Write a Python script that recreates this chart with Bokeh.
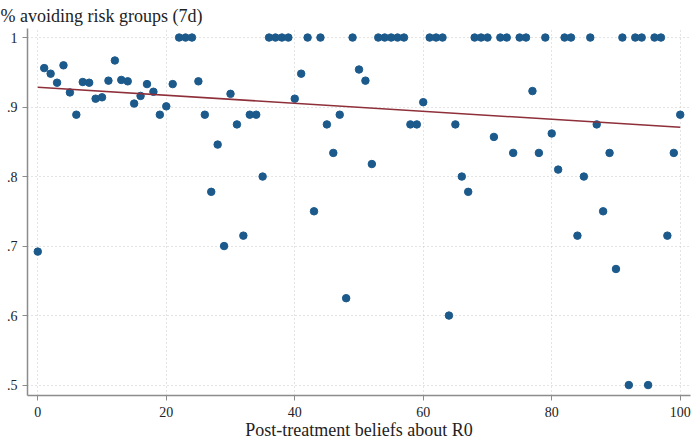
import numpy as np
from bokeh.plotting import figure
from bokeh.models import FixedTicker, Range1d, Title
from bokeh.embed import file_html
from bokeh.resources import INLINE

# Data
beliefs_r0 = list(range(0, 101))
avoid_share = [
    0.692, 0.956, 0.948, 0.935, 0.960, 0.921, 0.889, 0.936, 0.935, 0.912,
    0.914, 0.938, 0.967, 0.939, 0.937, 0.905, 0.916, 0.933, 0.922, 0.889,
    0.901, 0.933, 1.000, 1.000, 1.000, 0.937, 0.889, 0.778, 0.846, 0.700,
    0.919, 0.875, 0.715, 0.889, 0.889, 0.800, 1.000, 1.000, 1.000, 1.000,
    0.912, 0.948, 1.000, 0.750, 1.000, 0.875, 0.834, 0.889, 0.625, 1.000,
    0.954, 0.938, 0.818, 1.000, 1.000, 1.000, 1.000, 1.000, 0.875, 0.875,
    0.907, 1.000, 1.000, 1.000, 0.600, 0.875, 0.800, 0.778, 1.000, 1.000,
    1.000, 0.857, 1.000, 1.000, 0.834, 1.000, 1.000, 0.923, 0.834, 1.000,
    0.862, 0.810, 1.000, 1.000, 0.715, 0.800, 1.000, 0.875, 0.750, 0.834,
    0.667, 1.000, 0.500, 1.000, 1.000, 0.500, 1.000, 1.000, 0.715, 0.834,
    0.889,
]
x_ticks = [0, 20, 40, 60, 80, 100]
y_ticks = [0.5, 0.6, 0.7, 0.8, 0.9, 1.0]
y_tick_labels = [".5", ".6", ".7", ".8", ".9", "1"]
title_text = "% avoiding risk groups (7d)"
xlabel_text = "Post-treatment beliefs about R0"

# Linear fit line
slope, intercept = np.polyfit(beliefs_r0, avoid_share, 1)
fit_x = [min(beliefs_r0), max(beliefs_r0)]
fit_y = [intercept + slope * v for v in fit_x]

FONT = "Liberation Serif"
AXIS_COLOR = "#8c8c8c"
TEXT_COLOR = "#222222"

p = figure(width=696, height=442, output_backend="svg", toolbar_location=None,
           x_range=Range1d(-1.6, 101.6), y_range=Range1d(0.485, 1.013),
           min_border_left=27, min_border_right=6, min_border_top=28,
           min_border_bottom=44, title=None)
p.outline_line_color = None
p.background_fill_color = "white"
p.border_fill_color = "white"

t = Title(text=title_text, align="left", offset=-27, standoff=5,
          text_font=FONT, text_font_size="18px", text_font_style="normal",
          text_color=TEXT_COLOR)
p.add_layout(t, "above")

for ax in (p.xaxis, p.yaxis):
    ax.axis_line_color = AXIS_COLOR
    ax.axis_line_width = 1.5
    ax.major_tick_line_color = AXIS_COLOR
    ax.major_tick_line_width = 1
    ax.major_tick_out = 5
    ax.major_tick_in = 0
    ax.minor_tick_line_color = None
    ax.major_label_text_font = FONT
    ax.major_label_text_font_size = "14px"
    ax.major_label_text_color = TEXT_COLOR

p.xaxis.ticker = FixedTicker(ticks=x_ticks)
p.yaxis.ticker = FixedTicker(ticks=y_ticks)
p.yaxis.major_label_overrides = {v: l for v, l in zip(y_ticks, y_tick_labels)}
p.yaxis.major_label_standoff = 5
p.xaxis.major_label_standoff = 6
p.xaxis.axis_label = xlabel_text
p.xaxis.axis_label_text_font = FONT
p.xaxis.axis_label_text_font_size = "18px"
p.xaxis.axis_label_text_font_style = "normal"
p.xaxis.axis_label_text_color = TEXT_COLOR
p.xaxis.axis_label_standoff = 0

for g in (p.xgrid, p.ygrid):
    g.grid_line_color = "#c8c8c8"
    g.grid_line_dash = "1 3"
    g.grid_line_width = 1
p.xgrid.ticker = FixedTicker(ticks=x_ticks)
p.ygrid.ticker = FixedTicker(ticks=y_ticks)

p.scatter(beliefs_r0, avoid_share, size=7.5, fill_color="#1c5a8c",
          line_color="#1c5a8c")
p.line(fit_x, fit_y, line_color="#8e2f3a", line_width=1.6)

open("out.html", "w").write(file_html(p, INLINE))
